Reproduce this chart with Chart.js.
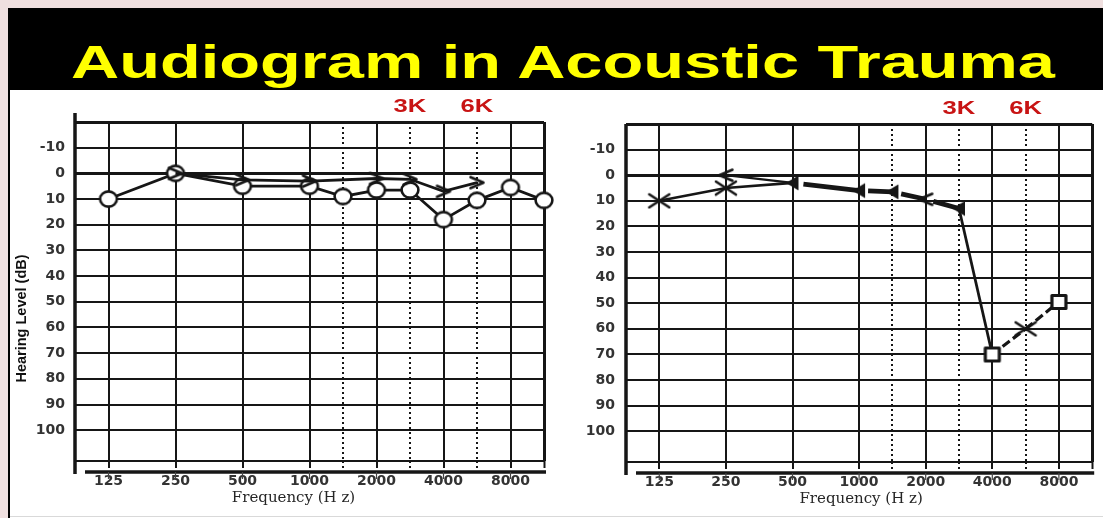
<!DOCTYPE html>
<html lang="en">
<head>
<meta charset="utf-8">
<title>Audiogram in Acoustic Trauma</title>
<script src="https://cdn.jsdelivr.net/npm/chart.js@4.4.1/dist/chart.umd.min.js"></script>
<style>
  html, body { margin: 0; padding: 0; }
  body { width: 1103px; height: 518px; position: relative; overflow: hidden; background: #efdfdf; }
  #frame { position: absolute; left: 8px; top: 8px; right: 0; bottom: 0; background: #000; }
  #panel { position: absolute; left: 10px; top: 90px; right: 0; bottom: 0; background: #fff; }
  #rule { position: absolute; left: 10px; right: 0; top: 516px; height: 1px; background: #d9d9d9; }
  #title {
    position: absolute; left: 563px; top: 38px; margin: 0;
    font: bold 47px/1 "Liberation Sans", Arial, sans-serif; color: #ffff00; white-space: nowrap;
    transform: translateX(-50%) scaleX(1.42);
  }
  canvas { position: absolute; top: 90px; }
  #earA { left: 10px; }
  #earB { left: 560px; }
</style>
</head>
<body>
<div id="frame"></div>
<div id="panel"></div>
<div id="rule"></div>
<h1 id="title">Audiogram in Acoustic Trauma</h1>
<canvas id="earA" width="550" height="426"></canvas>
<canvas id="earB" width="543" height="426"></canvas>
<script>
// ---------- data ----------
const FREQ_HZ = [125, 250, 500, 1000, 1500, 2000, 3000, 4000, 6000, 8000, 12000];
const AXIS_HZ = [125, 250, 500, 1000, 2000, 4000, 8000];
const MID_HZ = [1500, 3000, 6000];
const HL_TICKS = [-10, 0, 10, 20, 30, 40, 50, 60, 70, 80, 90, 100];
const NOTCH_HZ = [3000, 6000];
const NOTCH_LABELS = ['3K', '6K'];
const X_TITLE = 'Frequency (H z)';
const Y_TITLE = 'Hearing Level (dB)';

// first audiogram: air conduction (O) and bone conduction (>)
const A_CIRCLE_DB = [10, 0, 5, 5, 9, 6.5, 6.5, 18, 10.5, 5.5, 10.5];
const A_ARROW_DB  = [null, 0, 2.5, 3, null, 2, 2.3, 7, 3.6, null, null];

// second audiogram: notch at 4 kHz
const B_FREQ_HZ = [125, 250, 500, 1000, 1500, 2000, 3000, 4000, 6000, 8000];
const B_AIR_DB  = [10, 5, 3, 6, 6.5, 9.4, 13, 70, 60, 49.5];
const B_BONE_DB = [null, 0, 3, null, null, null, null, null, null, null];

// ---------- helpers ----------
const INK = '#161616';
const X_RANGE = { min: -0.5, max: 6.5 };   // octaves above 125 Hz
const HL_RANGE = { min: -20, max: 112 };   // dB HL, drawn downwards

// audiogram abscissa: octaves above 125 Hz, inter-octave frequencies halfway
const octave = hz => Math.round(Math.log2(hz / 125) * 2) / 2;
const points = (freqs, dbs) => freqs.map((f, i) => ({ x: octave(f), y: dbs[i] }));
const isMid = v => MID_HZ.some(f => octave(f) === v);
const tickVal = c => (c.tick ? c.tick.value : NaN);

function symbol(w, h, paint) {
  const c = document.createElement('canvas');
  c.width = w; c.height = h;
  const g = c.getContext('2d');
  g.strokeStyle = INK; g.fillStyle = '#fff'; g.lineWidth = 2.6;
  g.lineCap = 'round'; g.lineJoin = 'round';
  paint(g, w, h);
  return c;
}
const SYM = {
  circle: symbol(22, 20, (g, w, h) => { g.beginPath(); g.ellipse(w / 2, h / 2, 8.4, 7.6, 0, 0, Math.PI * 2); g.fill(); g.stroke(); }),
  right:  symbol(18, 16, (g, w, h) => { g.beginPath(); g.moveTo(2.5, 2.5); g.lineTo(w - 2.5, h / 2); g.lineTo(2.5, h - 2.5); g.stroke(); }),
  left:   symbol(18, 16, (g, w, h) => { g.beginPath(); g.moveTo(w - 2.5, 2.5); g.lineTo(2.5, h / 2); g.lineTo(w - 2.5, h - 2.5); g.stroke(); }),
  cross:  symbol(24, 17, (g, w, h) => { g.beginPath(); g.moveTo(2, 2); g.lineTo(w - 2, h - 2); g.moveTo(w - 2, 2); g.lineTo(2, h - 2); g.stroke(); }),
  square: symbol(22, 20, (g) => { g.lineWidth = 3.2; g.fillRect(4, 3.5, 14, 13); g.strokeRect(4, 3.5, 14, 13); }),
  wedge:  symbol(16, 18, (g, w, h) => { g.fillStyle = INK; g.beginPath(); g.moveTo(w - 2, 1.5); g.lineTo(w - 2, h - 1.5); g.lineTo(1.5, h / 2); g.closePath(); g.fill(); })
};

function scales(box) {
  return {
    x: {
      type: 'linear', min: X_RANGE.min, max: X_RANGE.max,
      afterBuildTicks: s => {
        const vals = [X_RANGE.min, X_RANGE.max, ...AXIS_HZ.map(octave), ...MID_HZ.map(octave)];
        s.ticks = vals.sort((a, b) => a - b).map(v => ({ value: v }));
      },
      afterFit: s => { s.height = box.xHeight; },
      ticks: {
        autoSkip: false, maxRotation: 0, minRotation: 0, padding: 5, color: '#333',
        font: { family: '"DejaVu Sans", sans-serif', size: 14, weight: 'bold' },
        callback: v => { const f = AXIS_HZ.find(h => octave(h) === v); return f ? String(f) : ''; }
      },
      grid: {
        color: c => tickVal(c) === X_RANGE.min ? 'rgba(0,0,0,0)' : INK,
        tickColor: c => tickVal(c) === X_RANGE.min ? 'rgba(0,0,0,0)' : INK,
        lineWidth: c => tickVal(c) === X_RANGE.max ? 3 : 2,
        tickWidth: 2, tickLength: 7, drawTicks: true,
        tickBorderDash: c => isMid(tickVal(c)) ? [2, 3] : []
      },
      border: { display: false, dash: c => isMid(tickVal(c)) ? [2, 3] : [] },
      title: { display: false }
    },
    y: {
      type: 'linear', reverse: true, min: HL_RANGE.min, max: HL_RANGE.max,
      afterBuildTicks: s => { s.ticks = [HL_RANGE.min, ...HL_TICKS, HL_RANGE.max].map(v => ({ value: v })); },
      afterFit: s => { s.width = box.yWidth; },
      ticks: {
        autoSkip: false, padding: box.yPad, color: '#333',
        font: { family: '"DejaVu Sans", sans-serif', size: 14, weight: 'bold' },
        callback: v => HL_TICKS.includes(v) ? String(v) : ''
      },
      grid: {
        color: INK, drawTicks: false,
        lineWidth: c => (tickVal(c) === 0 || tickVal(c) === HL_RANGE.min) ? 3 : 2
      },
      border: { display: false }
    }
  };
}

// axis rules, notch labels and the axis captions
const audiogramFrame = {
  id: 'audiogramFrame',
  beforeDatasetsDraw(chart, args, o) {
    const { ctx, chartArea: a } = chart;
    const xs = chart.scales.x;
    const base = a.bottom + 11;
    ctx.save();
    ctx.strokeStyle = INK;
    ctx.lineWidth = 3.5;
    ctx.beginPath(); ctx.moveTo(a.left, a.top - o.overhang); ctx.lineTo(a.left, base + 2); ctx.stroke();
    ctx.beginPath(); ctx.moveTo(a.left + 10, base); ctx.lineTo(a.right + 2, base); ctx.stroke();
    ctx.lineWidth = 1.2; ctx.strokeStyle = '#444';
    AXIS_HZ.forEach(f => {
      const x = xs.getPixelForValue(octave(f));
      ctx.beginPath(); ctx.moveTo(x, base); ctx.lineTo(x, base + 7); ctx.stroke();
    });
    ctx.restore();
  },
  afterDraw(chart, args, o) {
    const { ctx, chartArea: a } = chart;
    const xs = chart.scales.x;
    ctx.save();
    ctx.fillStyle = '#c81414';
    ctx.font = 'bold 19px "Liberation Sans", Arial, sans-serif';
    ctx.textAlign = 'center'; ctx.textBaseline = 'middle';
    NOTCH_HZ.forEach((f, i) => {
      ctx.save();
      ctx.translate(xs.getPixelForValue(octave(f)), a.top - 15);
      ctx.scale(1.35, 1);
      ctx.fillText(NOTCH_LABELS[i], 0, 0);
      ctx.restore();
    });
    // frequency caption under the axis
    ctx.fillStyle = '#262626';
    ctx.font = '15px "DejaVu Serif", serif';
    ctx.fillText(X_TITLE, (a.left + a.right) / 2 + o.captionShift, a.bottom + 37);
    if (o.vertical) {
      ctx.fillStyle = '#111';
      ctx.font = 'bold 14.5px "Liberation Sans", Arial, sans-serif';
      ctx.translate(a.left - 53, (a.top + a.bottom) / 2 + 27);
      ctx.rotate(-Math.PI / 2);
      ctx.fillText(Y_TITLE, 0, 0);
    }
    ctx.restore();
  }
};

const common = {
  responsive: false, animation: false, devicePixelRatio: 1, events: [],
  plugins: { legend: { display: false }, tooltip: { enabled: false } }
};
const lineBase = { borderColor: INK, borderWidth: 2.8, tension: 0, spanGaps: true, pointRadius: 8, clip: false, fill: false };

new Chart(document.getElementById('earA'), {
  type: 'line',
  data: {
    datasets: [
      { ...lineBase, label: 'Bone conduction', data: points(FREQ_HZ, A_ARROW_DB), pointStyle: SYM.right },
      { ...lineBase, label: 'Air conduction', data: points(FREQ_HZ, A_CIRCLE_DB), pointStyle: SYM.circle }
    ]
  },
  options: {
    ...common,
    layout: { padding: { left: 0, top: 32, right: 16, bottom: 0 } },
    scales: scales({ xHeight: 55, yWidth: 65, yPad: 10 }),
    plugins: { ...common.plugins, audiogramFrame: { overhang: 9, captionShift: -16, vertical: true } }
  },
  plugins: [audiogramFrame]
});

const B_MARKS = ['cross', 'cross', 'wedge', 'wedge', 'wedge', 'left', 'wedge', 'square', 'cross', 'square'];
const B_SEGMENTS = [
  { w: 2.6, dash: [] }, { w: 2.6, dash: [] },
  { w: 4.8, dash: [0, 11, 1000, 0] }, { w: 4.8, dash: [0, 9, 1000, 0] },
  { w: 4.8, dash: [0, 9, 1000, 0] }, { w: 4.8, dash: [0, 8, 1000, 0] },
  { w: 2.8, dash: [] },
  { w: 3.2, dash: [9, 4] }, { w: 3.2, dash: [9, 4] }
];

new Chart(document.getElementById('earB'), {
  type: 'line',
  data: {
    datasets: [
      {
        ...lineBase, label: 'Air conduction', data: points(B_FREQ_HZ, B_AIR_DB),
        pointStyle: c => SYM[B_MARKS[c.dataIndex]],
        segment: {
          borderWidth: c => B_SEGMENTS[c.p0DataIndex].w,
          borderDash: c => B_SEGMENTS[c.p0DataIndex].dash,
          borderDashOffset: c => (c.p0DataIndex % 2 ? 0.01 : 0)
        }
      },
      {
        ...lineBase, borderWidth: 2.2, label: 'Bone conduction', data: points(B_FREQ_HZ, B_BONE_DB),
        pointStyle: c => (c.dataIndex === 1 ? SYM.left : false),
        pointRadius: c => (c.dataIndex === 1 ? 8 : 0)
      }
    ]
  },
  options: {
    ...common,
    layout: { padding: { left: 0, top: 34, right: 8, bottom: 0 } },
    scales: scales({ xHeight: 54, yWidth: 66, yPad: 11 }),
    plugins: { ...common.plugins, audiogramFrame: { overhang: 0, captionShift: 2, vertical: false } }
  },
  plugins: [audiogramFrame]
});
</script>
</body>
</html>
